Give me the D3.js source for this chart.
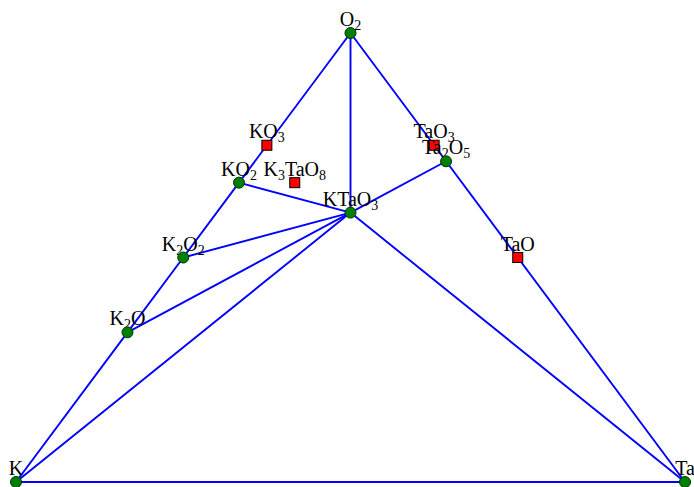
<!DOCTYPE html>
<html>
<head>
<meta charset="utf-8">
<script src="https://cdn.jsdelivr.net/npm/d3@7"></script>
<style>
  body { margin: 0; background: #fff; }
  svg { display: block; }
  .lbl { font-family: "Liberation Serif", "DejaVu Serif", serif; font-size: 20px; fill: #000; }
</style>
</head>
<body>
<svg id="chart" width="694" height="487"></svg>
<script>
// phases: composition counts K, Ta, O and stable flag
const phaseNames = ["KO3", "K3TaO8", "TaO3", "TaO", "K", "Ta", "O2", "K2O", "K2O2", "KO2", "KTaO3", "Ta2O5"];
const countK  = [1, 3, 0, 0, 1, 0, 0, 2, 2, 1, 1, 0];
const countTa = [0, 1, 1, 1, 0, 1, 0, 0, 0, 0, 1, 2];
const countO  = [3, 8, 3, 1, 0, 0, 2, 1, 2, 2, 3, 5];
const stable  = [false, false, false, false, true, true, true, true, true, true, true, true];

// hull tie lines
const edges = [
  ["K", "Ta"], ["K", "K2O"], ["K2O", "K2O2"], ["K2O2", "KO2"], ["KO2", "O2"],
  ["O2", "Ta2O5"], ["Ta2O5", "Ta"], ["O2", "KTaO3"], ["KTaO3", "Ta2O5"],
  ["KTaO3", "KO2"], ["KTaO3", "K2O2"], ["KTaO3", "K2O"], ["KTaO3", "K"], ["KTaO3", "Ta"]
];

const svg = d3.select("#chart");
const x = d3.scaleLinear().domain([0, 1]).range([16, 685]);
const y = d3.scaleLinear().domain([0, 1]).range([482, 33]);

const phases = phaseNames.map((name, i) => {
  const tot = countK[i] + countTa[i] + countO[i];
  const fTa = countTa[i] / tot, fO = countO[i] / tot;
  return { name, stable: stable[i], px: x(fTa + fO / 2), py: y(fO) };
});
const byName = new Map(phases.map(p => [p.name, p]));

svg.append("g")
  .selectAll("line")
  .data(edges)
  .join("line")
  .attr("x1", d => byName.get(d[0]).px)
  .attr("y1", d => byName.get(d[0]).py)
  .attr("x2", d => byName.get(d[1]).px)
  .attr("y2", d => byName.get(d[1]).py)
  .attr("stroke", "#0000ff")
  .attr("stroke-width", 1.9);

const g = svg.append("g")
  .selectAll("g")
  .data(phases)
  .join("g");

// split name into text/subscript runs
function parts(name) {
  return name.match(/[A-Za-z]+|\d+/g).map(s => [s, /\d/.test(s)]);
}

g.append("text")
  .attr("class", "lbl")
  .attr("x", d => d.px)
  .attr("y", d => d.py - 7)
  .attr("text-anchor", "middle")
  .each(function(d) {
    const t = d3.select(this);
    let sub = false;
    parts(d.name).forEach(([s, isSub]) => {
      const ts = t.append("tspan").text(s);
      if (isSub) ts.style("font-size", "14px").attr("dy", sub ? null : 4);
      else if (sub) ts.attr("dy", -4);
      sub = isSub;
    });
  });

g.filter(d => d.stable).append("circle")
  .attr("cx", d => d.px)
  .attr("cy", d => d.py)
  .attr("r", 5.5)
  .attr("fill", "#008000")
  .attr("stroke", "#003300")
  .attr("stroke-width", 1);

g.filter(d => !d.stable).append("rect")
  .attr("x", d => d.px - 5)
  .attr("y", d => d.py - 5)
  .attr("width", 10)
  .attr("height", 10)
  .attr("fill", "#ff0000")
  .attr("stroke", "#000")
  .attr("stroke-width", 1);
</script>
</body>
</html>
